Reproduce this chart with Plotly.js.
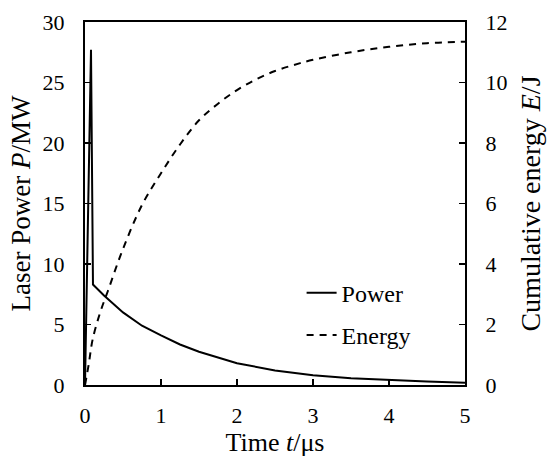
<!DOCTYPE html>
<html>
<head>
<meta charset="utf-8">
<script src="https://cdn.plot.ly/plotly-3.0.1.min.js"></script>
<style>html,body{margin:0;padding:0;background:#fff;}#chart{width:549px;height:457px;}</style>
</head>
<body>
<div id="chart"></div>
<script>
// Power trace (time in µs, power in MW)
var powerTime = [0, 0.079, 0.105, 0.25, 0.5, 0.75, 1.0, 1.25, 1.5, 1.75, 2.0, 2.5, 3.0, 3.5, 4.0, 4.5, 5.0];
var powerMW   = [0, 27.7, 8.3, 7.4, 6.0, 4.9, 4.1, 3.35, 2.75, 2.25, 1.8, 1.2, 0.8, 0.55, 0.4, 0.28, 0.18];

// Cumulative energy trace (time in µs, energy in J)
var energyTime = [0, 0.05, 0.1, 0.2, 0.3, 0.5, 0.75, 1.0, 1.25, 1.5, 1.75, 2.0, 2.25, 2.5, 2.75, 3.0, 3.5, 4.0, 4.5, 5.0];
var energyJ    = [0, 0.7, 1.5, 2.4, 3.1, 4.5, 5.95, 7.0, 7.95, 8.75, 9.3, 9.75, 10.1, 10.38, 10.58, 10.75, 11.0, 11.18, 11.3, 11.35];

var seriesNames = ["Power", "Energy"];
var xTicks = [0, 1, 2, 3, 4, 5];
var yTicks = [0, 5, 10, 15, 20, 25, 30];
var y2Ticks = [0, 2, 4, 6, 8, 10, 12];

var serif = "Liberation Serif";

var traces = [
  {x: powerTime, y: powerMW, name: seriesNames[0], type: "scatter", mode: "lines",
   line: {color: "#000", width: 2}, yaxis: "y", legendgroup: "a"},
  {x: energyTime, y: energyJ, name: seriesNames[1], type: "scatter", mode: "lines",
   line: {color: "#000", width: 2, dash: "7px,6px", shape: "spline"}, yaxis: "y2", legendgroup: "b"}
];

var layout = {
  width: 549, height: 457,
  margin: {l: 85, r: 84, t: 22, b: 72},
  paper_bgcolor: "#fff", plot_bgcolor: "#fff",
  font: {family: serif, size: 22, color: "#000"},
  showlegend: true,
  legend: {x: 0.57, y: 0.195, xanchor: "left", yanchor: "middle", bgcolor: "rgba(0,0,0,0)",
           font: {family: serif, size: 24, color: "#000"}, tracegroupgap: 8, traceorder: "grouped", itemwidth: 30},
  xaxis: {range: [0, 5], tickvals: xTicks, ticks: "inside", ticklen: 6, tickwidth: 1.5, tickcolor: "#000",
          showline: true, linecolor: "#000", linewidth: 2, mirror: true, showgrid: false, zeroline: false,
          tickfont: {family: serif, size: 22}, ticklabelstandoff: 10,
          title: {text: "Time <i>t</i>/μs", font: {family: serif, size: 26}, standoff: 6}},
  yaxis: {range: [0, 30], tickvals: yTicks, ticks: "inside", ticklen: 6, tickwidth: 1.5, tickcolor: "#000",
          showline: true, linecolor: "#000", linewidth: 2, showgrid: false, zeroline: false,
          tickfont: {family: serif, size: 22}, ticklabelstandoff: 14,
          title: {text: "Laser Power <i>P</i>/MW", font: {family: serif, size: 27}, standoff: 4}},
  yaxis2: {range: [0, 12], tickvals: y2Ticks, overlaying: "y", side: "right", ticks: "inside", ticklen: 6,
           tickwidth: 1.5, tickcolor: "#000", showline: true, linecolor: "#000", linewidth: 2,
           showgrid: false, zeroline: false, tickfont: {family: serif, size: 22}, ticklabelstandoff: 14,
           title: {text: "Cumulative energy <i>E</i>/J", font: {family: serif, size: 28}, standoff: 14}}
};

Plotly.newPlot("chart", traces, layout, {displayModeBar: false, staticPlot: true});
</script>
</body>
</html>
